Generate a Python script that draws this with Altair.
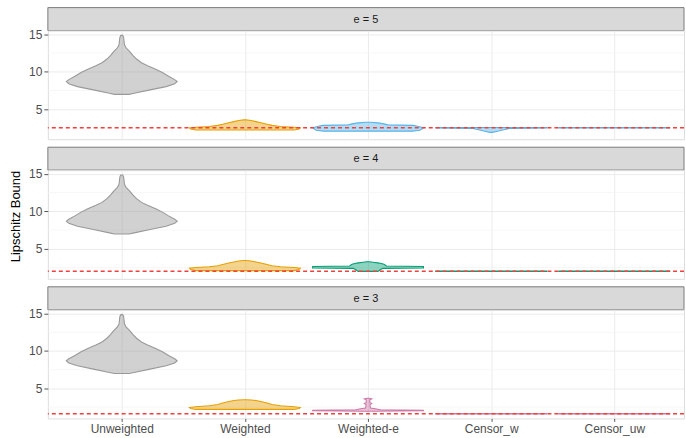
import json
import altair as alt
import pandas as pd

CATEGORIES = ["Unweighted", "Weighted", "Weighted-e", "Censor_w", "Censor_uw"]
E_LEVELS = [5, 4, 3]

# reference bound per e (dashed line)
BOUND_VALUE = [2.54, 2.01, 1.61]

# fill groups and their colours
GROUP_KEYS = ["gray", "orange", "blue", "green", "pink"]
GROUP_COLORS = ["#999999", "#E69F00", "#56B4E9", "#009E73", "#CC79A7"]

# violin outlines: Lipschitz bound values and half-widths (share of a category slot)
UNW_Y = [6.99, 7.13, 7.58, 8.02, 8.40, 8.69, 8.95, 9.40, 9.90, 10.30, 10.80,
         11.20, 11.70, 12.20, 12.70, 13.20, 13.60, 14.20, 14.60, 14.85]
UNW_W = [0.06, 0.10, 0.23, 0.36, 0.43, 0.45, 0.43, 0.38, 0.33, 0.28, 0.21,
         0.16, 0.12, 0.09, 0.065, 0.035, 0.022, 0.018, 0.015, 0.008]

W5_Y = [2.23, 2.35, 2.50, 2.60, 2.70, 2.85, 3.00, 3.20, 3.35, 3.50, 3.58]
W4_Y = [2.10, 2.25, 2.42, 2.52, 2.62, 2.75, 2.90, 3.10, 3.25, 3.38, 3.45]
W3_Y = [2.20, 2.32, 2.45, 2.55, 2.68, 2.85, 3.05, 3.25, 3.38, 3.45, 3.50]
W_W = [0.40, 0.44, 0.45, 0.40, 0.29, 0.22, 0.18, 0.13, 0.09, 0.05, 0.01]

WE5_Y = [2.08, 2.20, 2.40, 2.54, 2.70, 2.85, 2.92, 3.05, 3.18, 3.26]
WE5_W = [0.36, 0.42, 0.44, 0.45, 0.41, 0.37, 0.16, 0.13, 0.08, 0.02]
WE4_Y = [2.00, 2.20, 2.40, 2.45, 2.65, 2.72, 2.95, 3.10, 3.22, 3.27]
WE4_W = [0.08, 0.10, 0.12, 0.45, 0.45, 0.15, 0.13, 0.09, 0.04, 0.01]
WE3_Y = [1.95, 2.02, 2.08, 2.15, 2.30, 2.40, 2.80, 3.00, 3.10, 3.50, 3.60, 3.70]
WE3_W = [0.05, 0.45, 0.45, 0.10, 0.06, 0.02, 0.015, 0.03, 0.015, 0.015, 0.03, 0.01]

CW5_Y = [1.92, 2.10, 2.30, 2.45, 2.50, 2.57]
CW5_W = [0.01, 0.06, 0.11, 0.15, 0.45, 0.45]
CU5_Y = [2.51, 2.57]
C4_Y = [1.98, 2.04]
C3_Y = [1.58, 1.64]
FLAT_W = [0.45, 0.45]

VIOLINS = [
    (5, "Unweighted", "gray", UNW_Y, UNW_W),
    (5, "Weighted", "orange", W5_Y, W_W),
    (5, "Weighted-e", "blue", WE5_Y, WE5_W),
    (5, "Censor_w", "blue", CW5_Y, CW5_W),
    (5, "Censor_uw", "blue", CU5_Y, FLAT_W),
    (4, "Unweighted", "gray", UNW_Y, UNW_W),
    (4, "Weighted", "orange", W4_Y, W_W),
    (4, "Weighted-e", "green", WE4_Y, WE4_W),
    (4, "Censor_w", "green", C4_Y, FLAT_W),
    (4, "Censor_uw", "green", C4_Y, FLAT_W),
    (3, "Unweighted", "gray", UNW_Y, UNW_W),
    (3, "Weighted", "orange", W3_Y, W_W),
    (3, "Weighted-e", "pink", WE3_Y, WE3_W),
    (3, "Censor_w", "pink", C3_Y, FLAT_W),
    (3, "Censor_uw", "pink", C3_Y, FLAT_W),
]

MAJOR_TICKS = [5, 10, 15]
MINOR_GRID = [2.5, 7.5, 12.5]

rows = []
for e, cat, grp, ys, ws in VIOLINS:
    for y, w in zip(ys, ws):
        rows.append({"e": e, "method": cat, "pos": CATEGORIES.index(cat),
                     "grp": grp, "bound": y, "hw": w})
violin_df = pd.DataFrame(rows)

PANEL_W = 638
PANEL_H = 109
STRIP_H = 23
PANEL_GAP = 8
FONT = "Liberation Sans"

x_scale = alt.Scale(domain=[-0.6, 4.566], nice=False, zero=False)
y_scale = alt.Scale(domain=[1.0, 15.5], nice=False, zero=False)
color_scale = alt.Scale(domain=GROUP_KEYS, range=GROUP_COLORS)
label_expr = json.dumps(CATEGORIES) + "[datum.value]"


def y_axis(title):
    kw = dict(values=MAJOR_TICKS, grid=True, gridColor="#EBEBEB", gridWidth=1,
              domain=False, tickColor="#555555", tickSize=4, labelFontSize=12,
              labelColor="#4D4D4D", labelPadding=2, labelFont=FONT)
    if title:
        return alt.Axis(title=title, titleFontSize=13, titleFont=FONT,
                        titleFontWeight="normal", titleColor="#000000",
                        titlePadding=6, titleY=46, **kw)
    return alt.Axis(title=None, **kw)


def x_axis(show):
    return alt.Axis(values=list(range(len(CATEGORIES))), labelExpr=label_expr,
                    grid=True, gridColor="#EBEBEB", gridWidth=1, domain=False,
                    labels=show, ticks=show, tickColor="#555555", tickSize=3,
                    labelFontSize=12, labelColor="#4D4D4D", labelPadding=2,
                    labelFont=FONT, title=None)


def plot_panel(i, e):
    bottom = i == len(E_LEVELS) - 1
    title = "Lipschitz Bound" if i == 1 else None
    yax = y_axis(title)
    xax = x_axis(bottom)

    minor = alt.Chart(pd.DataFrame({"v": MINOR_GRID})).mark_rule(
        color="#F4F4F4", strokeWidth=0.7
    ).encode(y=alt.Y("v:Q", scale=y_scale, axis=yax))

    violins = alt.Chart(violin_df[violin_df.e == e]).transform_calculate(
        x_lo="datum.pos - datum.hw", x_hi="datum.pos + datum.hw"
    ).mark_area(orient="horizontal", fillOpacity=0.45, strokeWidth=1.1,
                interpolate="linear").encode(
        y=alt.Y("bound:Q", scale=y_scale, axis=yax),
        x=alt.X("x_lo:Q", scale=x_scale, axis=xax),
        x2="x_hi:Q",
        color=alt.Color("grp:N", scale=color_scale, legend=None),
        stroke=alt.Stroke("grp:N", scale=color_scale, legend=None),
        detail="method:N",
    )

    bound = alt.Chart(pd.DataFrame({"v": [BOUND_VALUE[i]]})).mark_rule(
        color="#F2403F", strokeWidth=1.5, strokeDash=[4, 3]
    ).encode(y=alt.Y("v:Q", scale=y_scale, axis=yax))

    return alt.layer(minor, violins, bound).properties(width=PANEL_W, height=PANEL_H)


def strip_panel(i, e):
    # strip header; panels after the first carry the gap above them
    gap = 0 if i == 0 else PANEL_GAP
    h = STRIP_H + gap
    strip_df = pd.DataFrame({"label": [f"e = {e}"]})
    box = alt.Chart(strip_df).mark_rect(
        fill="#D9D9D9", stroke="#7A7A7A", strokeWidth=1
    ).encode(x=alt.value(0), x2=alt.value(PANEL_W), y=alt.value(gap), y2=alt.value(h))
    text = alt.Chart(strip_df).mark_text(
        font=FONT, fontSize=11, color="#1A1A1A", baseline="middle", align="center"
    ).encode(x=alt.value(PANEL_W / 2), y=alt.value(gap + STRIP_H / 2 + 0.5), text="label:N")
    return alt.layer(box, text).properties(
        width=PANEL_W, height=h, view=alt.ViewBackground(stroke="transparent")
    )


parts = []
for i, e in enumerate(E_LEVELS):
    parts.append(strip_panel(i, e))
    parts.append(plot_panel(i, e))

chart = alt.vconcat(*parts, spacing=0, bounds="flush").properties(
    padding={"left": 9, "top": 6, "right": 0, "bottom": 0}
).configure_view(stroke="#8A8A8A", strokeWidth=1).configure(background="white")

chart.save("out.html", embed_options={"renderer": "svg", "actions": False})
